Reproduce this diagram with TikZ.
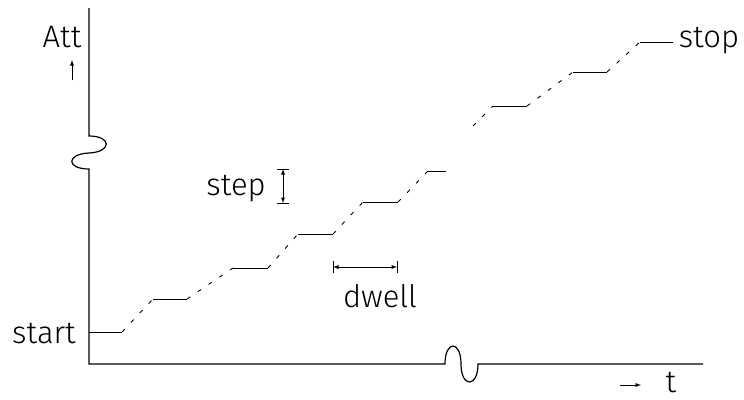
\documentclass[tikz,border=0pt]{standalone}
\usepackage{fontspec}
\setsansfont{Fira Sans}[UprightFont={* Light}]
\usepackage{tikz}
\usetikzlibrary{arrows,positioning,calc}

\tikzset{
  lbl/.style={font=\sffamily\fontsize{31}{31}\selectfont,inner sep=0pt},
  axis/.style={line width=1.2pt},
  level/.style={line width=1pt},
  ramp/.style={line width=0.9pt,dash pattern=on 4pt off 9pt},
  dim/.style={line width=0.9pt,>=latex}
}

\begin{document}
\begin{tikzpicture}[x=1pt,y=-1pt]
\useasboundingbox (0,0) rectangle (744,399);

% axes with breaks
\coordinate (org) at (89,364);
\coordinate (ytop) at (89,8);
\coordinate (ybrk1) at (89,136);
\coordinate (ybrk2) at (89,169);
\coordinate (xbrk1) at (445,364);
\coordinate (xbrk2) at (478,364);
\coordinate (xend) at (703,364);
\draw[axis] (ytop) -- (ybrk1) .. controls (112,136) and (112,152) .. (89,153)
  .. controls (66,154) and (66,169) .. (ybrk2) -- (org) -- (xbrk1)
  .. controls (445,340) and (461,340) .. (461,364)
  .. controls (461,388) and (478,388) .. (xbrk2) -- (xend);

% levels
\foreach \n/\xa/\xb/\yy in {0/89/122/332,1/153/187/299,2/233/268/268,3/298/333/234,
  4/363/398/202,5/428/446/171,6/493/527/106,7/573/607/72,8/640/673/42} {
  \coordinate (l\n a) at (\xa,\yy);
  \coordinate (l\n b) at (\xb,\yy);
  \draw[level] (l\n a) -- (l\n b);
}
\foreach \n/\m in {0/1,1/2,2/3,3/4,4/5,6/7,7/8}
  \draw[ramp] (l\n b) -- (l\m a);
\coordinate (r6) at (473,126);
\draw[ramp] (r6) -- (l6a);

% labels
\node[lbl,anchor=base] (att) at (62,47) {Att};
\node[lbl,anchor=base] (start) at (44,343) {start};
\node[lbl,anchor=base] (stp) at (236,195) {step};
\node[lbl,anchor=base] (dwl) at (380,307) {dwell};
\node[lbl,anchor=base] (stop) at (709,47) {stop};
\node[lbl,anchor=base] (tt) at (671,392) {t};

\coordinate (up0) at (72,80);
\coordinate (up1) at (72,60);
\draw[dim,->] (up0) -- (up1);
\coordinate (rt0) at (620,385);
\coordinate (rt1) at (641,385);
\draw[dim,->] (rt0) -- (rt1);

% step size
\coordinate (sz0) at (283,169);
\coordinate (sz1) at (283,203);
\draw[dim,<->] (sz0) -- (sz1);
\draw[dim] ($(sz0)+(-6,0)$) -- ($(sz0)+(6,0)$);
\draw[dim] ($(sz1)+(-6,0)$) -- ($(sz1)+(6,0)$);

% dwell time
\coordinate (dw0) at (333,267);
\coordinate (dw1) at (397,267);
\draw[dim,<->] (dw0) -- (dw1);
\draw[dim] ($(dw0)+(0,-6)$) -- ($(dw0)+(0,6)$);
\draw[dim] ($(dw1)+(0,-6)$) -- ($(dw1)+(0,6)$);
\end{tikzpicture}
\end{document}
